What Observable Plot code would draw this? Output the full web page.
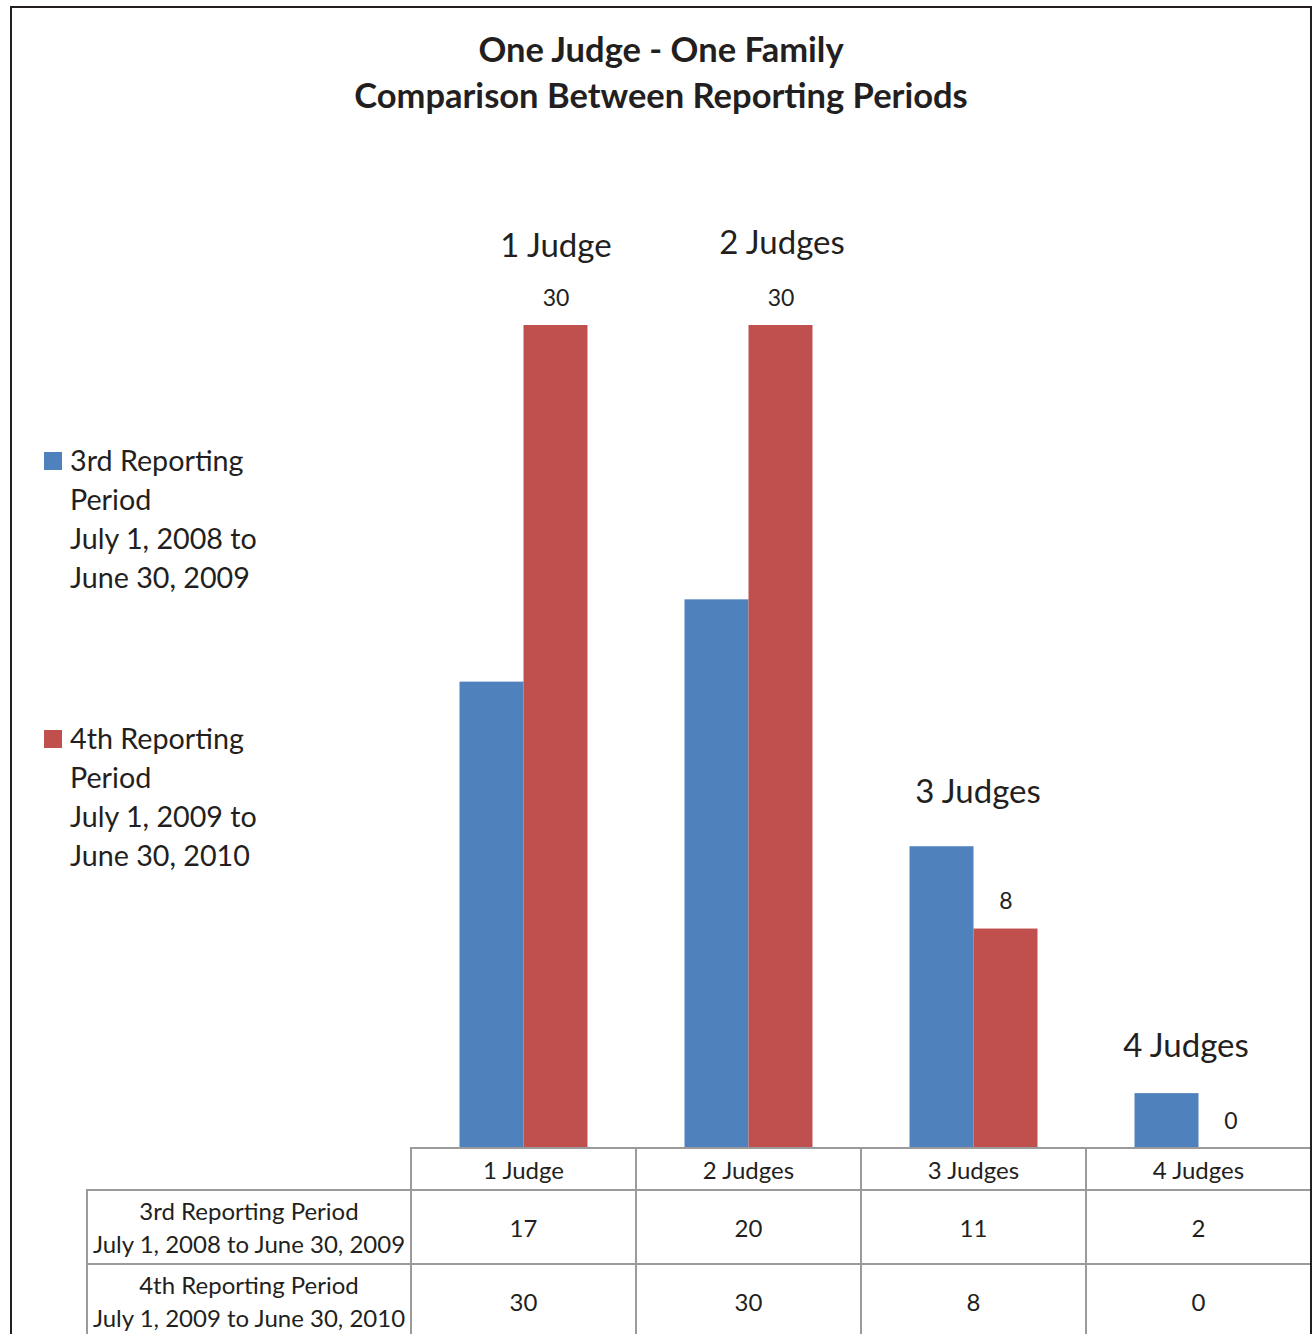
<!DOCTYPE html>
<html>
<head>
<meta charset="utf-8">
<script src="https://cdn.jsdelivr.net/npm/d3@7"></script>
<script src="https://cdn.jsdelivr.net/npm/@observablehq/plot@0.6"></script>
<style>
  body { margin: 0; background: #fff; }
  #chart { position: relative; width: 1312px; height: 1334px; overflow: hidden; font-family: Lato, "Open Sans", sans-serif; color: #231f20; background: #fff; }
  #frame { position: absolute; left: 10px; top: 6px; width: 1298px; height: 1400px; border: 2px solid #231f20; border-bottom: none; pointer-events: none; }
  #title { position: absolute; left: 0; width: 1322px; top: 26px; text-align: center; font-weight: bold; font-size: 34.5px; line-height: 46px; }
  #plot { position: absolute; left: 0; top: 0; }
  .legend { position: absolute; left: 44px; font-size: 28.7px; line-height: 39px; }
  .legend .swatch { position: absolute; left: 0; top: 11px; width: 18px; height: 18px; }
  .legend .label { margin-left: 26px; white-space: pre; }
  #table { position: absolute; left: 86px; top: 1147px; border-collapse: collapse; font-size: 24px; }
  #table td { border: 2px solid #9b9b9b; text-align: center; padding: 0; }
  #table td.corner { border-top: none; border-left: none; }
  #table tr.head td { height: 40px; }
  #table tr.body td { height: 72px; line-height: 33px; }
</style>
</head>
<body>
<div id="chart">
  <div id="title">One Judge - One Family<br>Comparison Between Reporting Periods</div>
  <div id="legend"></div>
  <table id="table"></table>
  <div id="frame"></div>
</div>
<script>
// Categories and the two reporting periods being compared
const categories = ["1 Judge", "2 Judges", "3 Judges", "4 Judges"];
const seriesNames = ["3rd Reporting Period", "4th Reporting Period"];
const seriesRanges = ["July 1, 2008 to June 30, 2009", "July 1, 2009 to June 30, 2010"];
const legendLines = [
  ["3rd Reporting", "Period", "July 1, 2008 to", "June 30, 2009"],
  ["4th Reporting", "Period", "July 1, 2009 to", "June 30, 2010"]
];
const thirdPeriod = [17, 20, 11, 2];
const fourthPeriod = [30, 30, 8, 0];

const colors = ["#4f81bd", "#c0504d"];
const ink = "#231f20";
// Pixel nudges for the large category captions above each group (dx, dy from the tallest bar)
const captionNudge = [[32, -79], [33, -82], [4, -54], [-13, -47]];

const rows = categories.flatMap((c, i) => [
  {category: c, series: seriesNames[0], value: thirdPeriod[i]},
  {category: c, series: seriesNames[1], value: fourthPeriod[i]}
]);
const groupMax = categories.map((c, i) => ({category: c, value: Math.max(thirdPeriod[i], fourthPeriod[i])}));

const captionMarks = groupMax.map((d, i) =>
  Plot.text([d], {
    fx: "category", y: "value", text: "category",
    dx: captionNudge[i][0], dy: captionNudge[i][1],
    fontSize: 33, fill: ink, lineAnchor: "middle", textAnchor: "middle"
  })
);

const chart = Plot.plot({
  width: 1312,
  height: 1150,
  marginLeft: 411,
  marginRight: 1,
  marginTop: 325,
  marginBottom: 2,
  style: {fontFamily: "Lato, 'Open Sans', sans-serif", background: "transparent", overflow: "visible"},
  facet: {marginTop: 0, marginBottom: 0, marginLeft: 0, marginRight: 0},
  fx: {domain: categories, padding: 0, round: false, axis: null, label: null},
  x: {domain: seriesNames, paddingInner: 0, paddingOuter: 0.758, round: false, axis: null},
  y: {domain: [0, 30], axis: null},
  color: {domain: seriesNames, range: colors},
  marks: [
    Plot.barY(rows, {fx: "category", x: "series", y: "value", fill: "series", insetLeft: 0, insetRight: 0}),
    Plot.text(rows.filter(d => d.series === seriesNames[1]), {
      fx: "category", x: "series", y: "value", text: d => String(d.value),
      dy: -27, fontSize: 23, fill: ink, lineAnchor: "middle"
    }),
    ...captionMarks
  ]
});
chart.id = "plot";
document.getElementById("chart").prepend(chart);

// Legend on the left
const legend = d3.select("#legend");
const legendTops = [441, 719];
seriesNames.forEach((s, i) => {
  const item = legend.append("div").attr("class", "legend").style("top", legendTops[i] + "px");
  item.append("div").attr("class", "swatch").style("background", colors[i]);
  item.append("div").attr("class", "label").text(legendLines[i].join("\n"));
});

// Data table beneath the bars
const table = d3.select("#table");
const head = table.append("tr").attr("class", "head");
head.append("td").attr("class", "corner").style("width", "323px");
categories.forEach(c => head.append("td").style("width", "223px").text(c));
[thirdPeriod, fourthPeriod].forEach((vals, i) => {
  const tr = table.append("tr").attr("class", "body");
  tr.append("td").html(seriesNames[i] + "<br>" + seriesRanges[i]);
  vals.forEach(v => tr.append("td").text(v));
});
</script>
</body>
</html>
